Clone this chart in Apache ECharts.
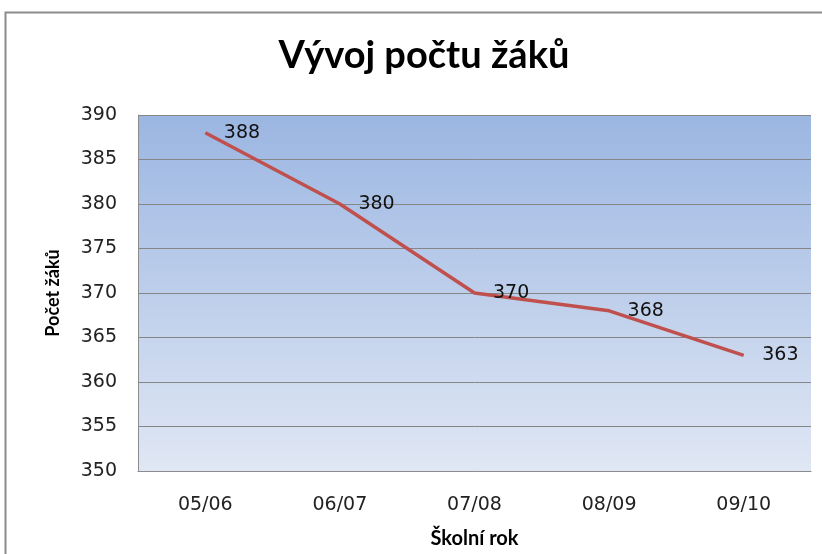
<!DOCTYPE html>
<html><head><meta charset="utf-8">
<script src="https://cdn.jsdelivr.net/npm/echarts@6/dist/echarts.min.js"></script>
<style>html,body{margin:0;padding:0;background:#fff;overflow:hidden;}#c{width:822px;height:554px;}</style>
</head><body><div id="c"></div>
<script>
const categories = ['05/06', '06/07', '07/08', '08/09', '09/10'];
const values = [388, 380, 370, 368, 363];
const yTicks = { min: 350, max: 390, interval: 5 };
const titleText = 'Vývoj počtu žáků';
const xName = 'Školní rok';
const yName = 'Počet žáků';

const chart = echarts.init(document.getElementById('c'));
chart.setOption({
  animation: false,
  backgroundColor: '#ffffff',
  title: {
    text: titleText, left: 419, top: 32, textAlign: 'center',
    textStyle: { fontFamily: 'Lato', fontWeight: 'bold', fontSize: 38, color: '#000' }
  },
  graphic: [{
    type: 'rect', shape: { x: 5.5, y: 12.5, width: 830, height: 560 },
    style: { fill: 'none', stroke: '#8c8c8c', lineWidth: 2 }, silent: true, z: 100
  }],
  grid: {
    left: 138, top: 115, right: 11, bottom: 79, show: true, borderWidth: 0,
    backgroundColor: new echarts.graphic.LinearGradient(0, 0, 0, 1, [
      { offset: 0, color: '#9bb6e2' }, { offset: 1, color: '#e0e7f4' }
    ])
  },
  xAxis: {
    type: 'category', data: categories, boundaryGap: true,
    name: xName, nameLocation: 'middle', nameGap: 58,
    nameTextStyle: { fontFamily: 'Lato', fontWeight: 'bold', fontSize: 20, color: '#000' },
    axisLine: { lineStyle: { color: '#8c8c8c', width: 1 } },
    axisTick: { show: false },
    axisLabel: { margin: 25, fontFamily: 'DejaVu Sans', fontSize: 19, color: '#222' }
  },
  yAxis: {
    type: 'value', min: yTicks.min, max: yTicks.max, interval: yTicks.interval,
    name: yName, nameLocation: 'middle', nameGap: 76,
    nameTextStyle: { fontFamily: 'Lato', fontWeight: 'bold', fontSize: 18, color: '#000' },
    axisLine: { show: true, lineStyle: { color: '#8c8c8c', width: 1 } },
    axisTick: { show: false },
    axisLabel: { margin: 21, fontFamily: 'DejaVu Sans', fontSize: 19, color: '#222' },
    splitLine: { lineStyle: { color: '#868686', width: 1 } }
  },
  series: [{
    type: 'line', data: values, symbol: 'circle', symbolSize: 1, showSymbol: true,
    itemStyle: { color: 'rgba(0,0,0,0)' },
    lineStyle: { color: '#c0504d', width: 3.5 },
    label: { show: true, position: 'right', distance: 18, fontFamily: 'DejaVu Sans', fontSize: 19, color: '#111' }
  }]
});
</script></body></html>
